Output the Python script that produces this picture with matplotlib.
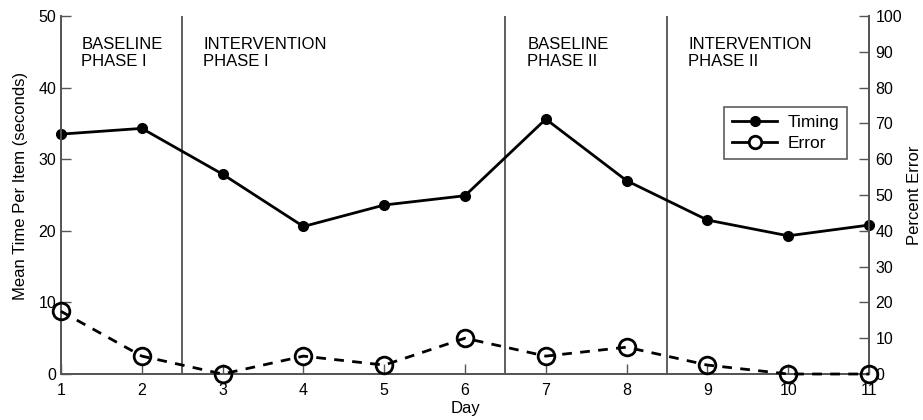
import matplotlib.pyplot as plt
from matplotlib.lines import Line2D

plt.rcParams['font.family'] = ['Liberation Sans', 'DejaVu Sans']

# data
days = [1, 2, 3, 4, 5, 6, 7, 8, 9, 10, 11]
timing = [33.5, 34.3, 27.9, 20.6, 23.6, 24.9, 35.6, 27.0, 21.5, 19.3, 20.8]
error_pct = [17.5, 5, 0, 5, 2.5, 10, 5, 7.5, 2.5, 0, 0]
phase_breaks = [2.5, 6.5, 8.5]
phase_labels = ['BASELINE\nPHASE I', 'INTERVENTION\nPHASE I',
                'BASELINE\nPHASE II', 'INTERVENTION\nPHASE II']
label_x = [1.25, 2.76, 6.77, 8.76]

fig = plt.figure(figsize=(9.23, 4.2), dpi=100)
ax = fig.add_axes([0.0661, 0.1095, 0.8754, 0.8525])
ax2 = ax.twinx()

spine_col = '#555555'

# phase dividers
for xb in phase_breaks:
    ax.axvline(xb, color='#333333', lw=1.1, zorder=1)

for x, txt in zip(label_x, phase_labels):
    ax.text(x, 47.05, txt, fontsize=12, va='top', ha='left', linespacing=1.12)

ax.plot(days, timing, color='black', lw=2, marker='o', markersize=7,
        zorder=3, clip_on=False)
ax2.plot(days, error_pct, color='black', lw=2, ls=(0, (3.5, 3)), marker='o',
         markersize=12, markerfacecolor='none', markeredgewidth=2,
         zorder=3, clip_on=False)

ax.set_xlim(1, 11)
ax.set_ylim(0, 50)
ax2.set_ylim(0, 100)
ax.set_xticks(days)
ax.set_yticks(range(0, 51, 10))
ax2.set_yticks(range(0, 101, 10))

for a in (ax, ax2):
    a.spines['top'].set_visible(False)
    for s in a.spines.values():
        s.set_color(spine_col)
        s.set_linewidth(1.3)
    a.tick_params(direction='in', length=7, width=1, color=spine_col,
                  labelsize=11.5)
ax.tick_params(axis='x', pad=6.5)
ax.tick_params(axis='y', pad=3.5)
ax2.tick_params(axis='y', pad=4.5)

ax.set_xlabel('Day', fontsize=12, labelpad=2)
ax.set_ylabel('Mean Time Per Item (seconds)', fontsize=12)
ax.yaxis.set_label_coords(-0.041, 0.525)
ax2.set_ylabel('Percent Error', fontsize=12)
ax2.yaxis.set_label_coords(1.047, 0.5)

handles = [
    Line2D([], [], color='black', lw=2, marker='o', markersize=7),
    Line2D([], [], color='black', lw=2, marker='o', markersize=9,
           markerfacecolor='white', markeredgewidth=2),
]
leg = ax2.legend(handles, ['Timing', 'Error'], loc='upper right',
                 bbox_to_anchor=(0.973, 0.746), borderaxespad=0,
                 fontsize=12.5, frameon=True,
                 fancybox=False, edgecolor='#333333', handlelength=2.6,
                 borderpad=0.45, labelspacing=0.35, handletextpad=0.6)
leg.get_frame().set_linewidth(1.2)

fig.savefig('out.png', dpi=100)
